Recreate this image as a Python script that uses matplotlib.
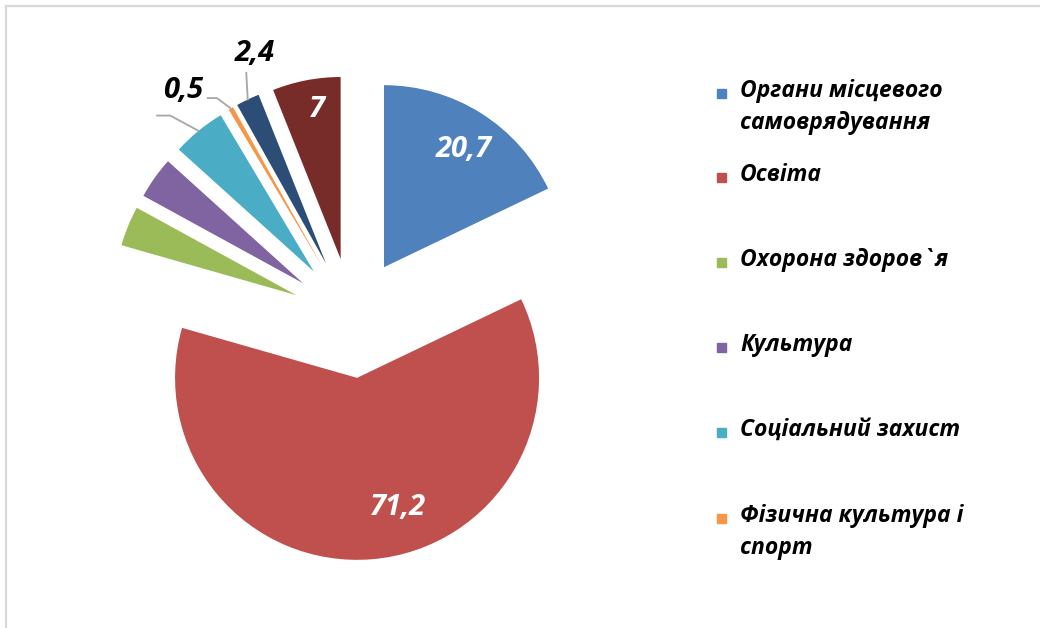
import numpy as np
import matplotlib
matplotlib.use("Agg")
import matplotlib.pyplot as plt
from matplotlib.patches import Rectangle

# data (clockwise from 12 o'clock)
values = [20.7, 71.2, 4.1, 4.3, 5.5, 0.5, 2.4, 7.0]
value_labels = ["20,7", "71,2", "", "", "", "0,5", "2,4", "7"]
legend_names = [
    "Органи місцевого\nсамоврядування",
    "Освіта",
    "Охорона здоров`я",
    "Культура",
    "Соціальний захист",
    "Фізична культура і\nспорт",
]
colors = ["#4F81BD", "#C0504D", "#9BBB59", "#8064A2",
          "#4BACC6", "#F79646", "#2C4D75", "#772C2A"]

plt.rcParams['font.family'] = ['Open Sans', 'DejaVu Sans']

W, H = 1040, 628
R = 182.0            # pie radius in px
CX, CY = 352.0, 318.0  # pie centre in px (from top-left)

fig = plt.figure(figsize=(W / 100, H / 100), dpi=100)
ax = fig.add_axes([0, 0, 1, 1])

wedges, _ = ax.pie(values, colors=colors, startangle=90, counterclock=False,
                   radius=1, explode=[0.33] * len(values),
                   wedgeprops=dict(linewidth=0))

ax.set_xlim(-CX / R, (W - CX) / R)
ax.set_ylim(-(H - CY) / R, CY / R)
ax.set_aspect('equal')
ax.axis('off')

lab_fs = 21
# inside labels (white)
inside = {0: (0.78, -1.8), 1: (0.75, 12.8), 7: (0.83, -1.8)}
for i, (dist, shift) in inside.items():
    w = wedges[i]
    th = np.deg2rad((w.theta1 + w.theta2) / 2 + shift)
    cx, cy = w.center
    ax.text(cx + dist * np.cos(th), cy + dist * np.sin(th), value_labels[i],
            color='white', fontsize=lab_fs, fontweight='bold', fontstyle='italic',
            ha='center', va='center')


def outer_point(w):
    th = np.deg2rad((w.theta1 + w.theta2) / 2)
    cx, cy = w.center
    return cx + w.r * np.cos(th), cy + w.r * np.sin(th)


lc = '#A6A6A6'
# 0,5 label with leader
ox, oy = outer_point(wedges[5])
ax.plot([ox, ox - 0.077, ox - 0.132], [oy, oy + 0.057, oy + 0.057],
        color=lc, lw=1.3, solid_capstyle='butt')
ax.text(ox - 0.15, oy + 0.10, value_labels[5], color='black', fontsize=lab_fs,
        fontweight='bold', fontstyle='italic', ha='right', va='center')

# 2,4 label with leader
ox, oy = outer_point(wedges[6])
ax.plot([ox, ox - 0.008], [oy, oy + 0.147], color=lc, lw=1.3)
ax.text(ox + 0.036, oy + 0.255, value_labels[6], color='black', fontsize=lab_fs,
        fontweight='bold', fontstyle='italic', ha='center', va='center')

# leader for the social protection slice (label not visible)
ox, oy = outer_point(wedges[4])
ax.plot([ox, ox - 0.155, ox - 0.227], [oy, oy + 0.084, oy + 0.084],
        color=lc, lw=1.3)

# legend drawn by hand, markers align with first text line
leg_y = [93, 177, 262, 347, 432, 518]
for name, col, y in zip(legend_names, colors, leg_y):
    fig.patches.append(Rectangle((717 / W, 1 - (y + 5) / H), 9 / W, 9 / H,
                                 transform=fig.transFigure, color=col))
    fig.text(740 / W, 1 - (y - 14) / H, name, fontsize=16.5, fontweight='bold',
             fontstyle='italic', ha='left', va='top', linespacing=1.45)

# chart area border (only top and left visible)
fig.patches.append(Rectangle((6 / W, -0.1), 2.0, 1 - 6 / H + 0.1,
                             transform=fig.transFigure, fill=False,
                             edgecolor='#D9D9D9', lw=1.6))

fig.savefig('out.png', dpi=100)
